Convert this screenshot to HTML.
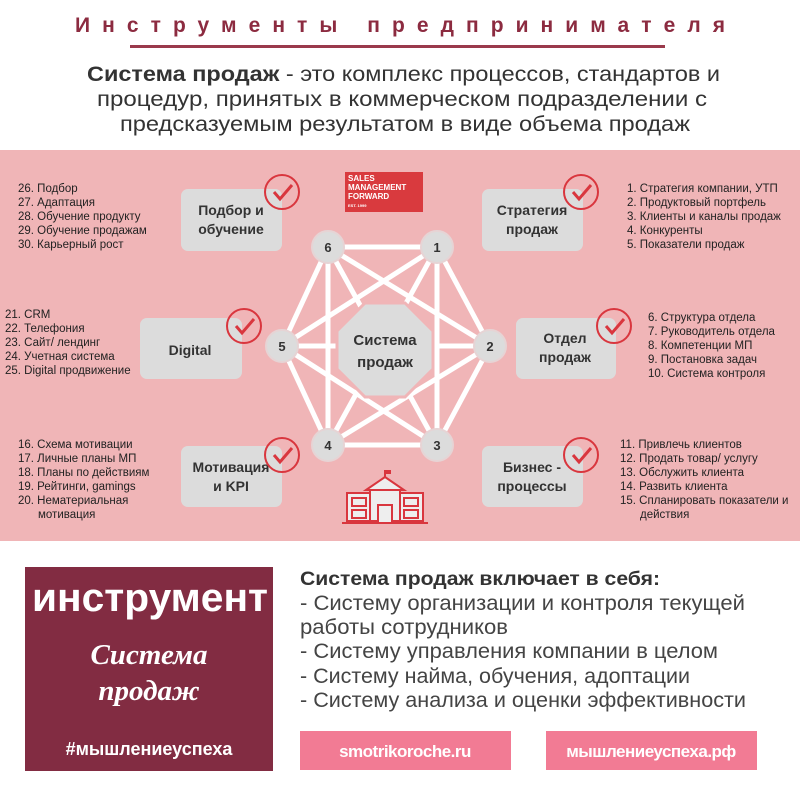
<!DOCTYPE html>
<html><head><meta charset="utf-8"><style>
html,body{margin:0;padding:0;background:#fff;}
svg{display:block;font-family:"Liberation Sans","DejaVu Sans",sans-serif;}
</style></head><body>
<svg width="800" height="800" viewBox="0 0 800 800" xmlns="http://www.w3.org/2000/svg">
<rect width="800" height="800" fill="#fff"/>
<text x="75" y="32" font-size="21" font-weight="bold" fill="#8c2b40" textLength="650" lengthAdjust="spacing">Инструменты  предпринимателя</text>
<rect x="130" y="45" width="535" height="3" fill="#9a3a4c"/>
<g font-size="21" fill="#333">
<text x="87" y="81" textLength="633" lengthAdjust="spacingAndGlyphs"><tspan font-weight="bold">Система продаж</tspan> - это комплекс процессов, стандартов и</text>
<text x="97" y="106" textLength="610" lengthAdjust="spacingAndGlyphs">процедур, принятых в коммерческом подразделении с</text>
<text x="120" y="131" textLength="570" lengthAdjust="spacingAndGlyphs">предсказуемым результатом в виде объема продаж</text>
</g>
<rect x="0" y="150" width="800" height="391" fill="#f0b5b7"/>
<g stroke="#fff" stroke-width="5" stroke-linecap="round">
<line x1="328" y1="247" x2="437" y2="247"/><line x1="328" y1="247" x2="490" y2="346"/><line x1="328" y1="247" x2="437" y2="445"/><line x1="328" y1="247" x2="328" y2="445"/><line x1="328" y1="247" x2="282" y2="346"/>
<line x1="437" y1="247" x2="490" y2="346"/><line x1="437" y1="247" x2="437" y2="445"/><line x1="437" y1="247" x2="328" y2="445"/><line x1="437" y1="247" x2="282" y2="346"/>
<line x1="490" y1="346" x2="437" y2="445"/><line x1="490" y1="346" x2="328" y2="445"/><line x1="490" y1="346" x2="282" y2="346"/>
<line x1="437" y1="445" x2="328" y2="445"/><line x1="437" y1="445" x2="282" y2="346"/>
<line x1="328" y1="445" x2="282" y2="346"/>
</g>
<polygon points="365,303 405,303 433,331 433,369 405,397 365,397 337,369 337,331" fill="#dcdcdc" stroke="#f0b5b7" stroke-width="3"/>
<text x="385" y="345" text-anchor="middle" font-size="15" font-weight="bold" fill="#333">Система</text>
<text x="385" y="367" text-anchor="middle" font-size="15" font-weight="bold" fill="#333">продаж</text>
<g fill="#dcdcdc" stroke="#e6d4d5" stroke-width="2">
<circle cx="328" cy="247" r="16"/><circle cx="437" cy="247" r="16"/><circle cx="490" cy="346" r="16"/>
<circle cx="437" cy="445" r="16"/><circle cx="328" cy="445" r="16"/><circle cx="282" cy="346" r="16"/>
</g>
<g font-size="13" font-weight="bold" fill="#333" text-anchor="middle">
<text x="328" y="252">6</text><text x="437" y="252">1</text><text x="490" y="351">2</text>
<text x="437" y="450">3</text><text x="328" y="450">4</text><text x="282" y="351">5</text>
</g>
<g fill="#dcdcdc">
<rect x="181" y="189" width="101" height="62" rx="7"/>
<rect x="482" y="189" width="101" height="62" rx="7"/>
<rect x="140" y="318" width="102" height="61" rx="7"/>
<rect x="516" y="318" width="100" height="61" rx="7"/>
<rect x="181" y="446" width="101" height="61" rx="7"/>
<rect x="482" y="446" width="101" height="61" rx="7"/>
</g>
<g font-size="14" font-weight="bold" fill="#333" text-anchor="middle">
<text x="231" y="215">Подбор и</text><text x="231" y="234">обучение</text>
<text x="532" y="215">Стратегия</text><text x="532" y="234">продаж</text>
<text x="190" y="355">Digital</text>
<text x="565" y="343">Отдел</text><text x="565" y="362">продаж</text>
<text x="231" y="472">Мотивация</text><text x="231" y="491">и KPI</text>
<text x="532" y="472">Бизнес -</text><text x="532" y="491">процессы</text>
</g>
<g fill="none" stroke="#d9363e" stroke-width="2">
<g transform="translate(282,192)"><circle r="17"/><path d="M-8,0 L-2,7 L10,-7" stroke-width="3"/></g>
<g transform="translate(581,192)"><circle r="17"/><path d="M-8,0 L-2,7 L10,-7" stroke-width="3"/></g>
<g transform="translate(244,326)"><circle r="17"/><path d="M-8,0 L-2,7 L10,-7" stroke-width="3"/></g>
<g transform="translate(614,326)"><circle r="17"/><path d="M-8,0 L-2,7 L10,-7" stroke-width="3"/></g>
<g transform="translate(282,455)"><circle r="17"/><path d="M-8,0 L-2,7 L10,-7" stroke-width="3"/></g>
<g transform="translate(581,455)"><circle r="17"/><path d="M-8,0 L-2,7 L10,-7" stroke-width="3"/></g>
</g>
<rect x="345" y="172" width="78" height="40" fill="#d93a3e"/>
<g fill="#fff" font-size="8" font-weight="bold"><text x="348" y="181">SALES</text><text x="348" y="190">MANAGEMENT</text><text x="348" y="199">FORWARD</text><text x="348" y="207" font-size="4">EST. 1999</text></g>
<g stroke="#d9363e" stroke-width="2" fill="#eee">
<rect x="347" y="493" width="76" height="28"/>
<rect x="370" y="490" width="30" height="31"/>
<polygon points="366,490 385,477 404,490" fill="#eee"/>
<line x1="342" y1="523" x2="428" y2="523"/>
<line x1="385" y1="477" x2="385" y2="470"/>
<rect x="378" y="505" width="14" height="18"/>
<rect x="352" y="498" width="14" height="8"/><rect x="352" y="510" width="14" height="8"/>
<rect x="404" y="498" width="14" height="8"/><rect x="404" y="510" width="14" height="8"/>
</g>
<rect x="385" y="470" width="6" height="4" fill="#d9363e"/>
<g font-size="11.5" fill="#222">
<text x="18" y="192">26. Подбор</text><text x="18" y="206">27. Адаптация</text><text x="18" y="220">28. Обучение продукту</text><text x="18" y="234">29. Обучение продажам</text><text x="18" y="248">30. Карьерный рост</text>
<text x="5" y="318">21. CRM</text><text x="5" y="332">22. Телефония</text><text x="5" y="346">23. Сайт/ лендинг</text><text x="5" y="360">24. Учетная система</text><text x="5" y="374">25. Digital продвижение</text>
<text x="18" y="448">16. Схема мотивации</text><text x="18" y="462">17. Личные планы МП</text><text x="18" y="476">18. Планы по действиям</text><text x="18" y="490">19. Рейтинги, gamings</text><text x="18" y="504">20. Нематериальная</text><text x="38" y="518">мотивация</text>
<text x="627" y="192">1.   Стратегия компании, УТП</text><text x="627" y="206">2.   Продуктовый портфель</text><text x="627" y="220">3.   Клиенты и каналы продаж</text><text x="627" y="234">4.   Конкуренты</text><text x="627" y="248">5.   Показатели продаж</text>
<text x="648" y="321">6.   Структура отдела</text><text x="648" y="335">7.   Руководитель отдела</text><text x="648" y="349">8.   Компетенции МП</text><text x="648" y="363">9.   Постановка задач</text><text x="648" y="377">10. Система контроля</text>
<text x="620" y="448">11. Привлечь клиентов</text><text x="620" y="462">12. Продать товар/ услугу</text><text x="620" y="476">13. Обслужить клиента</text><text x="620" y="490">14. Развить клиента</text><text x="620" y="504">15. Спланировать показатели и</text><text x="640" y="518">действия</text>
</g>
<rect x="25" y="567" width="248" height="204" fill="#822c42"/>
<text x="32" y="611" font-size="40" font-weight="bold" fill="#fff" textLength="236" lengthAdjust="spacingAndGlyphs">инструмент</text>
<text x="149" y="664" text-anchor="middle" font-size="29" font-style="italic" font-weight="bold" fill="#fff" font-family="Liberation Serif, serif">Система</text>
<text x="149" y="700" text-anchor="middle" font-size="29" font-style="italic" font-weight="bold" fill="#fff" font-family="Liberation Serif, serif">продаж</text>
<text x="149" y="755" text-anchor="middle" font-size="18" font-weight="bold" fill="#fff">#мышлениеуспеха</text>
<text x="300" y="585" font-size="19" font-weight="bold" fill="#333" textLength="360" lengthAdjust="spacingAndGlyphs">Система продаж включает в себя:</text>
<g font-size="21" fill="#444">
<text x="300" y="610" textLength="445" lengthAdjust="spacingAndGlyphs">- Систему организации и контроля текущей</text>
<text x="300" y="634" textLength="208" lengthAdjust="spacingAndGlyphs">работы сотрудников</text>
<text x="300" y="658" textLength="418" lengthAdjust="spacingAndGlyphs">- Систему управления компании в целом</text>
<text x="300" y="683" textLength="390" lengthAdjust="spacingAndGlyphs">- Систему найма, обучения, адоптации</text>
<text x="300" y="707" textLength="446" lengthAdjust="spacingAndGlyphs">- Систему анализа и оценки эффективности</text>
</g>
<rect x="300" y="731" width="211" height="39" fill="#f27b94"/>
<rect x="546" y="731" width="211" height="39" fill="#f27b94"/>
<text x="405" y="757" text-anchor="middle" font-size="17" font-weight="bold" fill="#fff" letter-spacing="-0.5">smotrikoroche.ru</text>
<text x="651" y="757" text-anchor="middle" font-size="17" font-weight="bold" fill="#fff" letter-spacing="-0.5">мышлениеуспеха.рф</text>
</svg>
</body></html>
